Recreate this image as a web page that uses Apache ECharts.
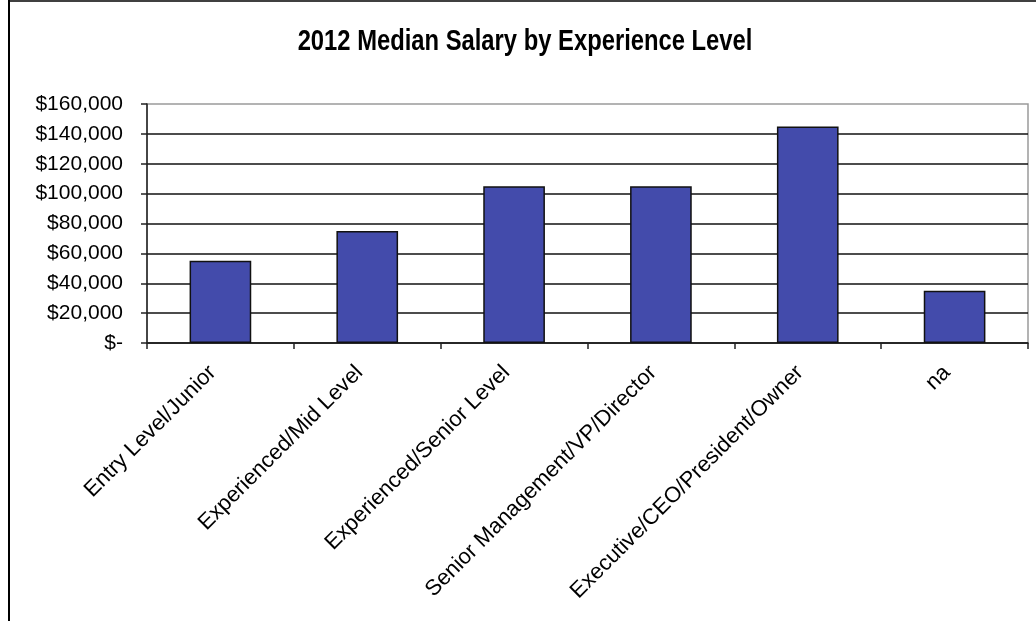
<!DOCTYPE html>
<html>
<head>
<meta charset="utf-8">
<script src="https://cdn.jsdelivr.net/npm/echarts@6/dist/echarts.min.js"></script>
<style>
  html, body { margin: 0; padding: 0; background: #fff; }
  #chart { width: 1036px; height: 621px; }
</style>
</head>
<body>
<div id="chart"></div>
<script>
// Median salary per experience level, 2012
const categories = [
  'Entry Level/Junior',
  'Experienced/Mid Level',
  'Experienced/Senior Level',
  'Senior Management/VP/Director',
  'Executive/CEO/President/Owner',
  'na'
];
const medianSalary = [55000, 75000, 105000, 105000, 145000, 35000];
const titleText = '2012 Median Salary by Experience Level';
const yMin = 0, yMax = 160000, yStep = 20000;

const baseFont = '"Liberation Sans", Arial, sans-serif';

function money(v) {
  if (v === 0) return '$-';
  return '$' + v.toLocaleString('en-US');
}

const chart = echarts.init(document.getElementById('chart'), null, { renderer: 'canvas' });
chart.setOption({
  backgroundColor: '#ffffff',
  animation: false,
  textStyle: { fontFamily: baseFont },
  graphic: [
    // chart frame: left and top edges
    { type: 'line', shape: { x1: 9, y1: 0, x2: 9, y2: 621 }, style: { stroke: '#000', lineWidth: 2 } },
    { type: 'line', shape: { x1: 8, y1: 1, x2: 1036, y2: 1 }, style: { stroke: '#000', lineWidth: 1.5 } },
    // condensed bold heading
    {
      type: 'text', x: 525, y: 42, scaleX: 0.82,
      style: {
        text: titleText, fill: '#000',
        font: 'bold 29px "Liberation Sans", Arial, sans-serif',
        textAlign: 'center', textVerticalAlign: 'middle'
      }
    }
  ],
  grid: {
    left: 147, right: 8, top: 104, bottom: 278,
    show: true, borderColor: '#9a9a9a', borderWidth: 1.5, backgroundColor: 'transparent'
  },
  xAxis: {
    type: 'category',
    data: categories,
    boundaryGap: true,
    axisLine: { lineStyle: { color: '#222', width: 1.5 } },
    axisTick: { show: true, alignWithLabel: false, length: 6, lineStyle: { color: '#222', width: 1.5 } },
    axisLabel: {
      rotate: 45, interval: 0, margin: 34, verticalAlign: 'bottom',
      fontSize: 22, color: '#000', fontFamily: baseFont
    }
  },
  yAxis: {
    type: 'value',
    min: yMin, max: yMax, interval: yStep,
    axisLine: { show: true, lineStyle: { color: '#222', width: 1.5 } },
    axisTick: { show: true, length: 6, lineStyle: { color: '#222', width: 1.5 } },
    axisLabel: {
      formatter: money, margin: 24,
      fontSize: 21, color: '#000', fontFamily: baseFont
    },
    splitLine: { show: true, showMaxLine: false, lineStyle: { color: '#111', width: 1.5 } }
  },
  series: [{
    type: 'bar',
    data: medianSalary,
    barCategoryGap: '58%',
    itemStyle: { color: '#434BAB', borderColor: '#111', borderWidth: 1.5 }
  }]
});
</script>
</body>
</html>
